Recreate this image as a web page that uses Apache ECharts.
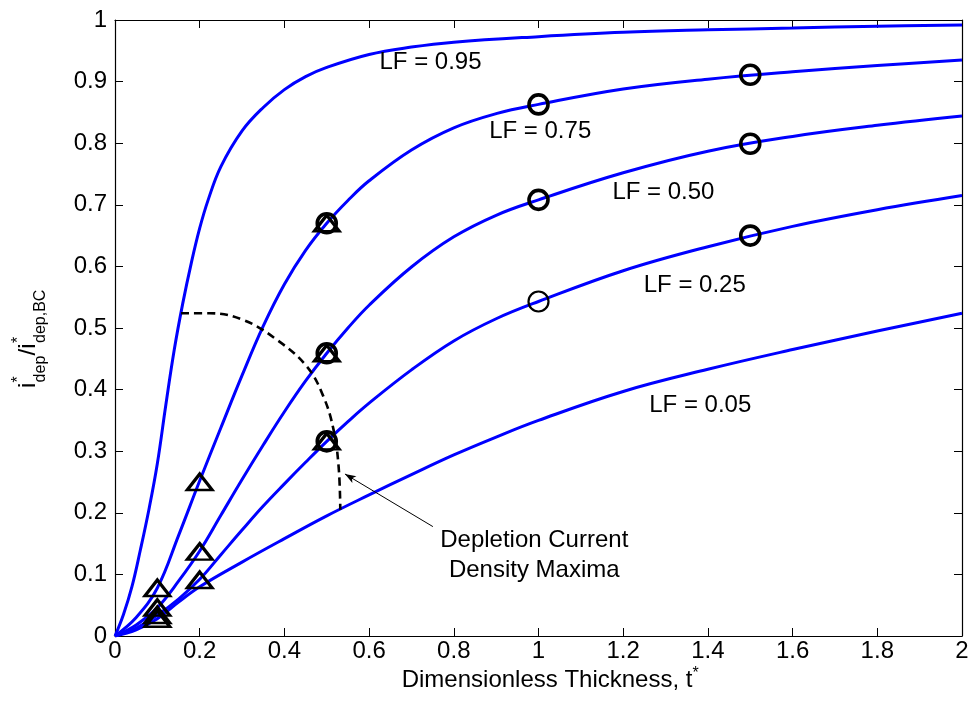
<!DOCTYPE html>
<html>
<head>
<meta charset="utf-8">
<script src="https://cdn.jsdelivr.net/npm/echarts@6/dist/echarts.min.js"></script>
<style>
html,body{margin:0;padding:0;background:#fff;}
#chart{width:972px;height:708px;}
</style>
</head>
<body>
<div id="chart"></div>
<script>
// ---- data (t*, i*dep / i*dep,BC) ----
const xTicks = [0, 0.2, 0.4, 0.6, 0.8, 1, 1.2, 1.4, 1.6, 1.8, 2];
const yTicks = [0, 0.1, 0.2, 0.3, 0.4, 0.5, 0.6, 0.7, 0.8, 0.9, 1];

const lf95 = [[0,0],[0.02,0.035],[0.04,0.08],[0.06,0.14],[0.08,0.205],[0.10,0.28],[0.12,0.375],[0.14,0.465],[0.16,0.54],[0.18,0.605],[0.20,0.662],[0.22,0.708],[0.25,0.762],[0.30,0.82],[0.35,0.858],[0.40,0.887],[0.45,0.908],[0.50,0.923],[0.60,0.944],[0.70,0.956],[0.80,0.964],[1.0,0.973],[1.2,0.980],[1.4,0.984],[1.6,0.987],[1.8,0.990],[2.0,0.992]];
const lf75 = [[0,0],[0.05,0.03],[0.10,0.078],[0.15,0.163],[0.20,0.252],[0.25,0.338],[0.30,0.423],[0.35,0.503],[0.40,0.571],[0.45,0.626],[0.50,0.670],[0.55,0.707],[0.60,0.739],[0.70,0.789],[0.80,0.825],[0.90,0.848],[1.0,0.863],[1.2,0.888],[1.4,0.904],[1.6,0.916],[1.8,0.926],[2.0,0.935]];
const lf50 = [[0,0],[0.05,0.018],[0.10,0.046],[0.15,0.089],[0.20,0.138],[0.25,0.196],[0.30,0.254],[0.35,0.310],[0.40,0.364],[0.45,0.414],[0.50,0.459],[0.55,0.500],[0.60,0.537],[0.70,0.599],[0.80,0.648],[0.90,0.683],[1.0,0.708],[1.2,0.752],[1.4,0.787],[1.6,0.811],[1.8,0.829],[2.0,0.844]];
const lf25 = [[0,0],[0.05,0.013],[0.10,0.034],[0.15,0.060],[0.20,0.092],[0.25,0.132],[0.30,0.172],[0.35,0.211],[0.40,0.247],[0.45,0.282],[0.50,0.316],[0.55,0.348],[0.60,0.378],[0.70,0.432],[0.80,0.479],[0.90,0.515],[1.0,0.543],[1.2,0.593],[1.4,0.632],[1.6,0.665],[1.8,0.692],[2.0,0.715]];
const lf05 = [[0,0],[0.05,0.01],[0.10,0.028],[0.15,0.055],[0.20,0.080],[0.30,0.120],[0.40,0.158],[0.50,0.195],[0.60,0.229],[0.70,0.262],[0.80,0.294],[0.90,0.323],[1.0,0.350],[1.2,0.397],[1.4,0.433],[1.6,0.465],[1.8,0.495],[2.0,0.524]];

const maximaCurve = [[0.156,0.524],[0.224,0.524],[0.303,0.513],[0.382,0.481],[0.453,0.4375],[0.492,0.389],[0.516,0.335],[0.528,0.275],[0.532,0.205]];

const triangles = [[0.1,0.078],[0.1,0.046],[0.1,0.034],[0.1,0.028],[0.2,0.25],[0.2,0.137],[0.2,0.091],[0.5,0.670],[0.5,0.459],[0.5,0.316]];
const circlesBold = [[0.5,0.670],[0.5,0.459],[0.5,0.316],[1.0,0.863],[1.0,0.708],[1.5,0.911],[1.5,0.799],[1.5,0.650]];
const circlesThin = [[1.0,0.543]];

const curveLabels = ['LF = 0.95','LF = 0.75','LF = 0.50','LF = 0.25','LF = 0.05'];
const curveLabelPos = [[0.745,0.931],[1.004,0.819],[1.295,0.720],[1.369,0.570],[1.382,0.374]];
const noteLines = ['Depletion Current','Density Maxima'];
const notePos = [[0.99,0.155],[0.99,0.1065]];
const arrowFrom = [0.7506,0.1776];
const arrowTo = [0.543,0.263];

const FONT = "'Liberation Sans', Arial, Helvetica, sans-serif";
const BLUE = '#0000ff';

const chart = echarts.init(document.getElementById('chart'), null, {renderer:'canvas'});

function curve(name, d){
  return {name, type:'line', data:d, showSymbol:false, symbol:'none', smooth:0.4,
    lineStyle:{color:BLUE, width:3}, z:2, silent:true};
}

const annot = curveLabels.map((s,i)=>({value:curveLabelPos[i], label:{formatter:s}}))
  .concat(noteLines.map((s,i)=>({value:notePos[i], label:{formatter:s}})));

const axBase = {
  axisLine:{show:true, onZero:false, lineStyle:{color:'#000', width:1.2}},
  axisTick:{show:true, inside:true, length:8, lineStyle:{color:'#000', width:1}},
  splitLine:{show:false}
};

const option = {
  animation:false,
  backgroundColor:'#fff',
  grid:{left:115, right:10, top:20, bottom:72, containLabel:false},
  xAxis:[Object.assign({
    type:'value', min:0, max:2, interval:0.2, position:'bottom',
    axisLabel:{show:true, color:'#000', fontSize:24, fontFamily:FONT, margin:3,
      formatter:v=>{const k=xTicks.findIndex(x=>Math.abs(x-v)<1e-9); return k>=0?String(xTicks[k]):'';}}
  }, axBase), Object.assign({
    type:'value', min:0, max:2, interval:0.2, position:'top', axisLabel:{show:false}
  }, axBase)],
  yAxis:[Object.assign({
    type:'value', min:0, max:1, interval:0.1, position:'left',
    axisLabel:{show:true, color:'#000', fontSize:24, fontFamily:FONT, margin:8,
      formatter:v=>{const k=yTicks.findIndex(x=>Math.abs(x-v)<1e-9); return k>=0?String(yTicks[k]):'';}}
  }, axBase), Object.assign({
    type:'value', min:0, max:1, interval:0.1, position:'right', axisLabel:{show:false}
  }, axBase)],
  series:[
    curve('LF = 0.95', lf95),
    curve('LF = 0.75', lf75),
    curve('LF = 0.50', lf50),
    curve('LF = 0.25', lf25),
    curve('LF = 0.05', lf05),
    {name:'maxima', type:'line', data:maximaCurve, showSymbol:false, symbol:'none', smooth:0.4,
     lineStyle:{color:'#000', width:2.6, type:[8,5]}, z:3, silent:true,
     markLine:{silent:true, symbol:['none','arrow'], symbolSize:[6,11], label:{show:false},
       lineStyle:{color:'#000', width:1, type:'solid', opacity:1},
       data:[[{coord:arrowFrom},{coord:arrowTo}]]}},
    {name:'tri', type:'scatter', data:triangles, symbol:'triangle', symbolSize:[25,16],
     itemStyle:{color:'rgba(0,0,0,0)', borderColor:'#000', borderWidth:3, opacity:1}, z:4, silent:true},
    {name:'circBold', type:'scatter', data:circlesBold, symbol:'circle', symbolSize:19,
     itemStyle:{color:'rgba(0,0,0,0)', borderColor:'#000', borderWidth:3.6, opacity:1}, z:4, silent:true},
    {name:'circThin', type:'scatter', data:circlesThin, symbol:'circle', symbolSize:20,
     itemStyle:{color:'rgba(0,0,0,0)', borderColor:'#000', borderWidth:2.2, opacity:1}, z:4, silent:true},
    {name:'annot', type:'scatter', data:annot, symbolSize:0, z:5, silent:true,
     itemStyle:{opacity:1},
     label:{show:true, position:'inside', color:'#000', opacity:1, fontSize:24, fontFamily:FONT}}
  ],
  graphic:[
    {type:'text', x:401.7, y:680, style:{text:'Dimensionless Thickness, t', font:'24px '+FONT, fill:'#000', align:'left', verticalAlign:'middle'}},
    {type:'text', x:695.5, y:674, style:{text:'*', font:'16px '+FONT, fill:'#000', align:'center', verticalAlign:'middle'}},
    {type:'group', x:37, y:388, rotation:Math.PI/2, children:[
      {type:'text', x:0, y:-8.6, style:{text:'i', font:'24px '+FONT, fill:'#000', align:'left', verticalAlign:'middle'}},
      {type:'text', x:5.6, y:-18.5, style:{text:'*', font:'16px '+FONT, fill:'#000', align:'left', verticalAlign:'middle'}},
      {type:'text', x:5.6, y:3.5, style:{text:'dep', font:'16px '+FONT, fill:'#000', align:'left', verticalAlign:'middle'}},
      {type:'text', x:32.6, y:-8.6, style:{text:'/', font:'24px '+FONT, fill:'#000', align:'left', verticalAlign:'middle'}},
      {type:'text', x:39.3, y:-8.6, style:{text:'i', font:'24px '+FONT, fill:'#000', align:'left', verticalAlign:'middle'}},
      {type:'text', x:45, y:-18.5, style:{text:'*', font:'16px '+FONT, fill:'#000', align:'left', verticalAlign:'middle'}},
      {type:'text', x:45, y:3.5, style:{text:'dep,BC', font:'16px '+FONT, fill:'#000', align:'left', verticalAlign:'middle'}}
    ]}
  ]
};
chart.setOption(option);
</script>
</body>
</html>
